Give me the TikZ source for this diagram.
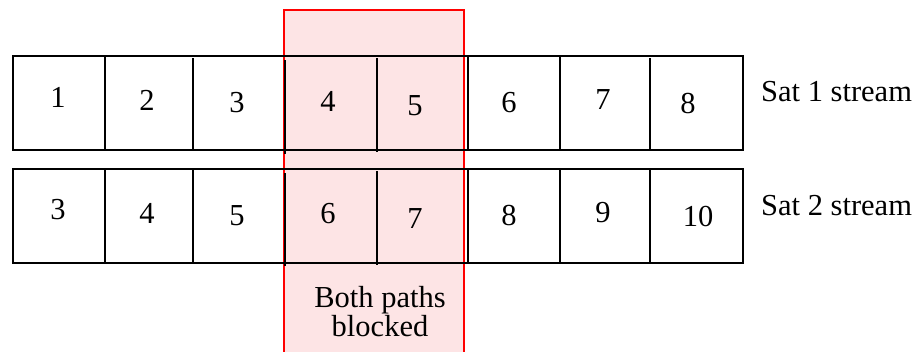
\documentclass[tikz,border=0pt]{standalone}
\usepackage{fontspec}
\setmainfont{Liberation Serif}
\definecolor{blockfill}{RGB}{253,228,229}
\definecolor{blockline}{RGB}{255,0,0}
\begin{document}
\begin{tikzpicture}[x=1pt,y=-1pt,
  cellline/.style={draw=black,line width=2.2pt},
  num/.style={font=\fontsize{30.5}{34}\selectfont,inner sep=0pt,anchor=center},
  caption/.style={font=\fontsize{30.5}{29}\selectfont,inner sep=0pt,align=center}]
\useasboundingbox (0,0) rectangle (918,351);
\begin{scope}
\clip (0,0) rectangle (918,351);
% blocked window across both streams
\draw[blockline,fill=blockfill,line width=1.6pt] (284,10) rectangle (464,360);
\end{scope}
% stream frames
\node[cellline,minimum width=730pt,minimum height=94pt,inner sep=0pt,anchor=north west] (s1) at (12,55) {};
\node[cellline,minimum width=730pt,minimum height=94pt,inner sep=0pt,anchor=north west] (s2) at (12,168) {};
% cell dividers, stream 1
\draw[cellline] (105,55) -- (105,149);
\draw[cellline] (193,58) -- (193,151);
\draw[cellline] (285,60) -- (285,154);
\draw[cellline] (377,58) -- (377,152);
\draw[cellline] (468,57) -- (468,149);
\draw[cellline] (560,57) -- (560,150);
\draw[cellline] (650,58) -- (650,150);
% cell dividers, stream 2
\draw[cellline] (105,168) -- (105,262);
\draw[cellline] (193,170) -- (193,264);
\draw[cellline] (285,173) -- (285,266);
\draw[cellline] (377,171) -- (377,265);
\draw[cellline] (468,170) -- (468,262);
\draw[cellline] (560,170) -- (560,263);
\draw[cellline] (650,170) -- (650,262);
% packet numbers, stream 1
\node[num] (a1) at (58,97) {1};
\node[num] (a2) at (147,100) {2};
\node[num] (a3) at (237,103) {3};
\node[num] (a4) at (328,101) {4};
\node[num] (a5) at (415,106) {5};
\node[num] (a6) at (509,103) {6};
\node[num] (a7) at (603,100) {7};
\node[num] (a8) at (688,104) {8};
% packet numbers, stream 2
\node[num] (b1) at (58,210) {3};
\node[num] (b2) at (147,213) {4};
\node[num] (b3) at (237,216) {5};
\node[num] (b4) at (328,214) {6};
\node[num] (b5) at (415,219) {7};
\node[num] (b6) at (509,216) {8};
\node[num] (b7) at (603,213) {9};
\node[num] (b8) at (698,217) {10};
% stream names
\node[num,anchor=west] (l1) at (761,92) {Sat 1 stream};
\node[num,anchor=west] (l2) at (761,206) {Sat 2 stream};
\node[caption] (blk) at (380,312) {Both paths\\blocked};
\end{tikzpicture}
\end{document}
